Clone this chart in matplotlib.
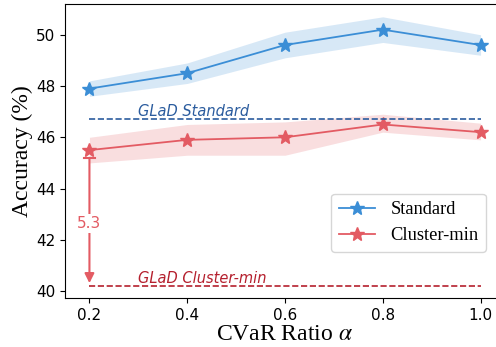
import numpy as np
import matplotlib
matplotlib.use('Agg')
import matplotlib.pyplot as plt

# data
alpha = [0.2, 0.4, 0.6, 0.8, 1.0]
standard = [47.9, 48.5, 49.6, 50.2, 49.6]
standard_lo = [47.6, 48.1, 49.1, 49.7, 49.2]
standard_hi = [48.2, 48.9, 50.1, 50.7, 50.0]
cluster = [45.5, 45.9, 46.0, 46.5, 46.2]
cluster_lo = [45.0, 45.3, 45.3, 46.2, 45.9]
cluster_hi = [46.0, 46.5, 46.6, 46.9, 46.55]
glad_standard = 46.7
glad_cluster = 40.2
gap_label = '5.3'

blue = '#3b8ed6'
red = '#e35b63'
dark_blue = '#2b5c9e'
dark_red = '#b5202e'

plt.rcParams['mathtext.fontset'] = 'stix'

fig = plt.figure(figsize=(4.96, 3.47), dpi=100)
ax = fig.add_axes([65 / 496, 49 / 347, 440 / 496, 294 / 347])

ax.plot(alpha, standard, color=blue, marker='*', markersize=10, linewidth=1.3, label='Standard')
ax.fill_between(alpha, standard_lo, standard_hi, color=blue, alpha=0.2, linewidth=0)
ax.plot(alpha, cluster, color=red, marker='*', markersize=10, linewidth=1.3, label='Cluster-min')
ax.fill_between(alpha, cluster_lo, cluster_hi, color=red, alpha=0.2, linewidth=0)

ax.plot([alpha[0], alpha[-1]], [glad_standard] * 2, '--', color=dark_blue, linewidth=1.2)
ax.plot([alpha[0], alpha[-1]], [glad_cluster] * 2, '--', color=dark_red, linewidth=1.2)
ax.text(0.3, glad_standard + 0.12, 'GLaD Standard', color=dark_blue, style='italic', fontsize=10.5)
ax.text(0.3, glad_cluster + 0.12, 'GLaD Cluster-min', color=dark_red, style='italic', fontsize=10.5)

# gap arrow
top = cluster_lo[0] + 0.2
ax.annotate('', xy=(alpha[0], glad_cluster), xytext=(alpha[0], top),
            arrowprops=dict(arrowstyle='-|>', color=red, lw=1.5, shrinkA=0, shrinkB=2, mutation_scale=14))
ax.plot([alpha[0] - 0.012, alpha[0] + 0.012], [top, top], color=red, lw=1.5)
ax.text(alpha[0], 42.65, gap_label, color=red, fontsize=11, ha='center', va='center',
        bbox=dict(facecolor='white', edgecolor='none', pad=1.5))

ax.set_xlim(0.15, 1.05)
ax.set_ylim(39.73, 51.2)
ax.set_xticks(alpha)
ax.set_yticks([40, 42, 44, 46, 48, 50])
ax.tick_params(labelsize=11)
ax.set_xlabel(r'CVaR Ratio $\alpha$', family='Liberation Serif', fontsize=17, labelpad=1)
ax.set_ylabel('Accuracy (%)', family='Liberation Serif', fontsize=17, labelpad=2)

ax.legend(loc='lower right', bbox_to_anchor=(495 / 496, 86 / 347), bbox_transform=fig.transFigure,
          prop={'family': 'Liberation Serif', 'size': 13.3})

fig.savefig('out.png', dpi=100)
